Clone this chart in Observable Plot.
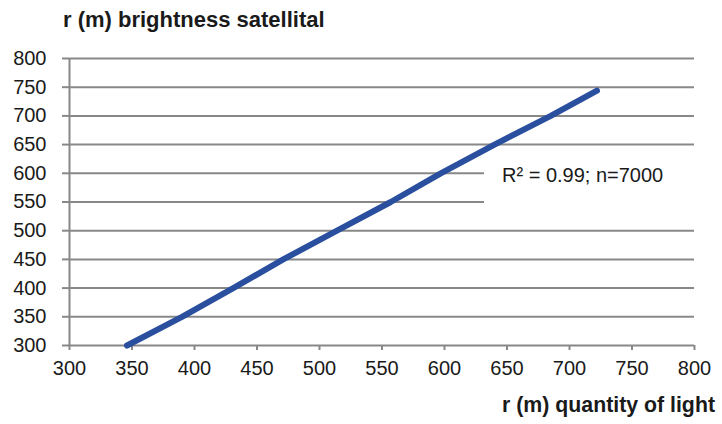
<!DOCTYPE html>
<html>
<head>
<meta charset="utf-8">
<script src="https://cdn.jsdelivr.net/npm/d3@7"></script>
<script src="https://cdn.jsdelivr.net/npm/@observablehq/plot@0.6"></script>
<style>
  html, body { margin: 0; padding: 0; background: #fff; }
  #wrap { position: relative; width: 722px; height: 424px; font-family: "Liberation Sans", Arial, sans-serif; color: #1a1a1a; }
  #wrap svg { position: absolute; left: 0; top: 0; }
  #wrap svg g[aria-label$="tick label"] { font-size: 20px; font-family: "Liberation Sans", Arial, sans-serif; }
  .lbl { position: absolute; font-weight: bold; line-height: 22px; white-space: nowrap; color: #1a1a1a; }
</style>
</head>
<body>
<div id="wrap">
  <div class="lbl" id="ytitle" style="left:63px; top:9px; font-size:22px;"></div>
  <div class="lbl" id="xtitle" style="right:7px; top:394px; font-size:21.3px;"></div>
</div>
<script>
// Data
const quantityOfLight = [346, 390, 431, 471, 514, 557, 597, 640, 685, 722];
const brightnessSatellital = [300, 350, 400, 450, 500, 550, 600, 650, 700, 744];
const xTicks = [300, 350, 400, 450, 500, 550, 600, 650, 700, 750, 800];
const yTicks = [300, 350, 400, 450, 500, 550, 600, 650, 700, 750, 800];
const gridValues = [350, 400, 450, 500, 550, 600, 650, 700, 750, 800];
const yTitle = "r (m) brightness satellital";
const xTitle = "r (m) quantity of light";
const annotationText = ["R\u00B2 = 0.99; n=7000"];

const points = quantityOfLight.map((x, i) => ({x, y: brightnessSatellital[i]}));
const gray = "#888888";

const chart = Plot.plot({
  width: 722,
  height: 424,
  marginTop: 58,
  marginRight: 28,
  marginBottom: 79,
  marginLeft: 69,
  style: {fontFamily: "Liberation Sans, Arial, sans-serif", fontSize: "20px", color: "#1a1a1a", background: "transparent"},
  x: {domain: [300, 800], label: null},
  y: {domain: [300, 800], label: null},
  marks: [
    Plot.ruleY(gridValues, {stroke: gray, strokeWidth: 2}),
    Plot.rect(annotationText, {x1: () => 632, x2: () => 800, y1: () => 512, y2: () => 638, fill: "white"}),
    Plot.ruleY([300], {stroke: gray, strokeWidth: 2}),
    Plot.ruleX([300], {stroke: gray, strokeWidth: 2}),
    Plot.axisY({ticks: yTicks, tickSize: 7, tickPadding: 16, stroke: gray, strokeWidth: 2, fontSize: 20, label: null, tickFormat: d => String(d)}),
    Plot.axisX({ticks: xTicks, tickSize: 5, tickPadding: 10, stroke: gray, strokeWidth: 2, fontSize: 20, label: null, tickFormat: d => String(d)}),
    Plot.line(points, {x: "x", y: "y", stroke: "#2a4f9e", strokeWidth: 6, strokeLinecap: "round", strokeLinejoin: "round"}),
    Plot.text(annotationText, {x: () => 646, y: () => 596, text: d => d, textAnchor: "start", fontSize: 20, fill: "#1a1a1a"})
  ]
});
const wrap = document.getElementById("wrap");
wrap.insertBefore(chart, wrap.firstChild);
document.getElementById("ytitle").textContent = yTitle;
document.getElementById("xtitle").textContent = xTitle;
</script>
</body>
</html>
